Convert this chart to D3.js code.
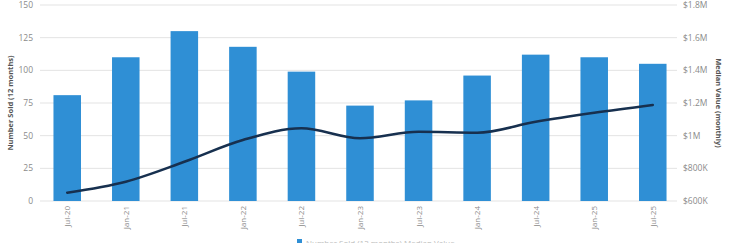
<!DOCTYPE html>
<html>
<head>
<meta charset="utf-8">
<script src="https://cdn.jsdelivr.net/npm/d3@7"></script>
<style>
  body { margin: 0; background: #fff; }
  svg { display: block; font-family: "Open Sans", sans-serif; }
</style>
</head>
<body>
<svg id="chart" width="729" height="243"></svg>
<script>
// periods, sales counts and median values
var periods = ["Jul-20", "Jan-21", "Jul-21", "Jan-22", "Jul-22", "Jan-23", "Jul-23", "Jan-24", "Jul-24", "Jan-25", "Jul-25"];
var numberSold = [81, 110, 130, 118, 99, 73, 77, 96, 112, 110, 105];
var medianValue = [651000, 718000, 840000, 973000, 1045000, 984000, 1024000, 1018000, 1085000, 1140000, 1188000];
var leftTicks = [0, 25, 50, 75, 100, 125, 150];
var rightTicks = [600000, 800000, 1000000, 1200000, 1400000, 1600000, 1800000];

var svg = d3.select("#chart");
// note: "top" is a reserved window global, so plot edges get their own names
var plotLeft = 40, plotRight = 680, plotTop = 5, plotBottom = 201;

var x = d3.scaleBand().domain(periods).range([plotLeft, plotRight]).paddingInner(0.53).paddingOuter(0.23);
var yL = d3.scaleLinear().domain([0, 150]).range([plotBottom, plotTop]);
var yR = d3.scaleLinear().domain([600000, 1800000]).range([plotBottom, plotTop]);

// gridlines
svg.append("g").selectAll("line")
    .data(leftTicks)
    .enter().append("line")
    .attr("x1", plotLeft).attr("x2", plotRight - 3)
    .attr("y1", d => yL(d)).attr("y2", d => yL(d))
    .attr("stroke", "#e3e3e3").attr("stroke-width", 1);

// bars
svg.append("g").selectAll("rect")
    .data(numberSold)
    .enter().append("rect")
    .attr("x", (d, i) => x(periods[i]))
    .attr("width", x.bandwidth())
    .attr("y", d => yL(d))
    .attr("height", d => plotBottom - yL(d))
    .attr("fill", "#2f8fd5");

// line
var line = d3.line()
    .x((d, i) => x(periods[i]) + x.bandwidth() / 2)
    .y(d => yR(d))
    .curve(d3.curveMonotoneX);
svg.append("path")
    .datum(medianValue)
    .attr("d", line)
    .attr("fill", "none")
    .attr("stroke", "#17304f")
    .attr("stroke-width", 2.6)
    .attr("stroke-linecap", "round");

// left axis labels
svg.append("g").selectAll("text")
    .data(leftTicks)
    .enter().append("text")
    .attr("x", 33).attr("y", d => yL(d) + 3)
    .attr("text-anchor", "end")
    .attr("font-size", 8.5).attr("fill", "#8a8a8a")
    .text(d => d);

// right axis labels
var fmtMoney = function(v) {
    if (v >= 1000000) return "$" + (v / 1000000).toString() + "M";
    return "$" + (v / 1000) + "K";
};
svg.append("g").selectAll("text")
    .data(rightTicks)
    .enter().append("text")
    .attr("x", 683).attr("y", d => yR(d) + 3)
    .attr("font-size", 8.5).attr("fill", "#8a8a8a")
    .text(fmtMoney);

// x labels, rotated
svg.append("g").selectAll("text")
    .data(periods)
    .enter().append("text")
    .attr("transform", d => "translate(" + (x(d) + x.bandwidth() / 2 + 3) + "," + 206 + ") rotate(-90)")
    .attr("text-anchor", "end")
    .attr("font-size", 8).attr("fill", "#8a8a8a")
    .text(d => d);

// axis titles
svg.append("text")
    .attr("transform", "translate(13," + ((plotTop + plotBottom) / 2) + ") rotate(-90)")
    .attr("text-anchor", "middle")
    .attr("font-size", 7.5).attr("font-weight", "bold").attr("fill", "#555")
    .text("Number Sold (12 months)");
svg.append("text")
    .attr("transform", "translate(716," + ((plotTop + plotBottom) / 2) + ") rotate(90)")
    .attr("text-anchor", "middle")
    .attr("font-size", 7.5).attr("font-weight", "bold").attr("fill", "#555")
    .text("Median Value (monthly)");

// legend, mostly cut off at the bottom edge
svg.append("rect")
    .attr("x", 297).attr("y", 239).attr("width", 5).attr("height", 5)
    .attr("fill", "#2f8fd5");
svg.append("text")
    .attr("x", 306).attr("y", 246)
    .attr("font-size", 8).attr("fill", "#bbb")
    .text("Number Sold (12 months)  Median Value");
</script>
</body>
</html>
